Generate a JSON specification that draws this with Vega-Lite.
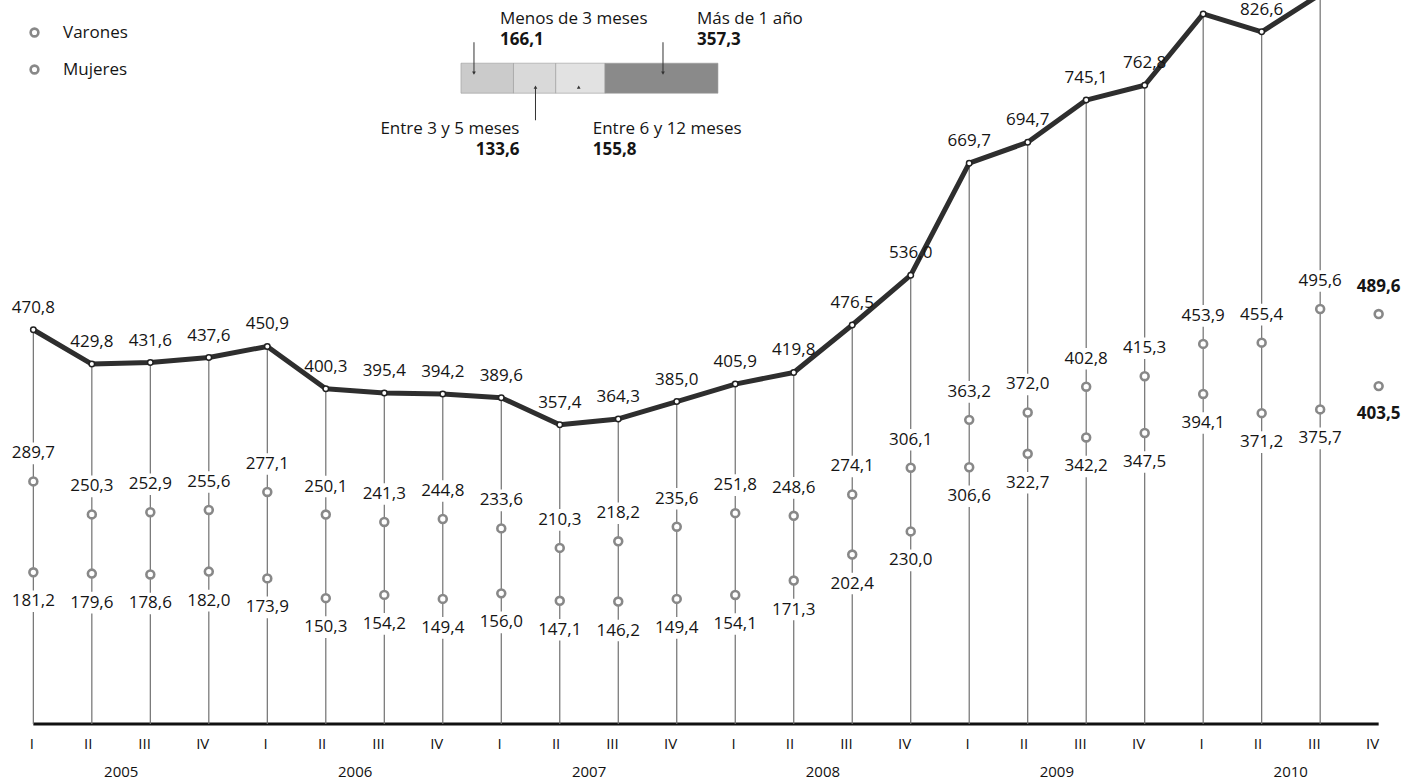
{
 "$schema": "https://vega.github.io/schema/vega-lite/v6.json",
 "width": 1412,
 "height": 724,
 "autosize": {"type": "none"},
 "padding": {"left": 0, "top": 0, "right": 0, "bottom": 56},
 "background": "white",
 "config": {
  "view": {"stroke": null},
  "font": "Open Sans",
  "locale": {"number": {"decimal": ",", "thousands": ".", "grouping": [3], "currency": ["", " €"]}},
  "text": {"color": "#151515"}
 },
 "datasets": {
  "trimestres": [
   {"key": "2005 I", "year": "2005", "total": 470.8, "Varones": 289.7, "Mujeres": 181.2},
   {"key": "2005 II", "year": "2005", "total": 429.8, "Varones": 250.3, "Mujeres": 179.6},
   {"key": "2005 III", "year": "2005", "total": 431.6, "Varones": 252.9, "Mujeres": 178.6},
   {"key": "2005 IV", "year": "2005", "total": 437.6, "Varones": 255.6, "Mujeres": 182.0},
   {"key": "2006 I", "year": "2006", "total": 450.9, "Varones": 277.1, "Mujeres": 173.9},
   {"key": "2006 II", "year": "2006", "total": 400.3, "Varones": 250.1, "Mujeres": 150.3},
   {"key": "2006 III", "year": "2006", "total": 395.4, "Varones": 241.3, "Mujeres": 154.2},
   {"key": "2006 IV", "year": "2006", "total": 394.2, "Varones": 244.8, "Mujeres": 149.4},
   {"key": "2007 I", "year": "2007", "total": 389.6, "Varones": 233.6, "Mujeres": 156.0},
   {"key": "2007 II", "year": "2007", "total": 357.4, "Varones": 210.3, "Mujeres": 147.1},
   {"key": "2007 III", "year": "2007", "total": 364.3, "Varones": 218.2, "Mujeres": 146.2},
   {"key": "2007 IV", "year": "2007", "total": 385.0, "Varones": 235.6, "Mujeres": 149.4},
   {"key": "2008 I", "year": "2008", "total": 405.9, "Varones": 251.8, "Mujeres": 154.1},
   {"key": "2008 II", "year": "2008", "total": 419.8, "Varones": 248.6, "Mujeres": 171.3},
   {"key": "2008 III", "year": "2008", "total": 476.5, "Varones": 274.1, "Mujeres": 202.4},
   {"key": "2008 IV", "year": "2008", "total": 536.0, "Varones": 306.1, "Mujeres": 230.0},
   {"key": "2009 I", "year": "2009", "total": 669.7, "Varones": 363.2, "Mujeres": 306.6},
   {"key": "2009 II", "year": "2009", "total": 694.7, "Varones": 372.0, "Mujeres": 322.7},
   {"key": "2009 III", "year": "2009", "total": 745.1, "Varones": 402.8, "Mujeres": 342.2},
   {"key": "2009 IV", "year": "2009", "total": 762.8, "Varones": 415.3, "Mujeres": 347.5},
   {"key": "2010 I", "year": "2010", "total": 848.0, "Varones": 453.9, "Mujeres": 394.1},
   {"key": "2010 II", "year": "2010", "total": 826.6, "Varones": 455.4, "Mujeres": 371.2},
   {"key": "2010 III", "year": "2010", "total": 871.3, "Varones": 495.6, "Mujeres": 375.7},
   {"key": "2010 IV", "year": "2010", "total": null, "Varones": 489.6, "Mujeres": 403.5}
  ],
  "duracion": [
   {"fila": "Duración", "duracion": "Menos de 3 meses", "valor": 166.1, "orden": 1},
   {"fila": "Duración", "duracion": "Entre 3 y 5 meses", "valor": 133.6, "orden": 2},
   {"fila": "Duración", "duracion": "Entre 6 y 12 meses", "valor": 155.8, "orden": 3},
   {"fila": "Duración", "duracion": "Más de 1 año", "valor": 357.3, "orden": 4}
  ],
  "eje": [
   {"desde": "2005 I", "hasta": "2010 IV", "nivel": 0}
  ]
 },
 "layer": [
  {
   "layer": [
    {
     "data": {"name": "eje"},
     "mark": {"type": "rule", "color": "#111", "strokeWidth": 3},
     "encoding": {
      "x": {"field": "desde", "type": "ordinal"},
      "x2": {"field": "hasta"},
      "y": {"field": "nivel", "type": "quantitative", "scale": {"domain": [0, 864.6], "nice": false, "zero": true}, "axis": null}
     }
    },
    {
     "data": {"name": "trimestres"},
     "encoding": {
      "x": {
       "field": "key", "type": "ordinal",
       "scale": {"type": "point", "padding": 0.57, "domain": ["2005 I","2005 II","2005 III","2005 IV","2006 I","2006 II","2006 III","2006 IV","2007 I","2007 II","2007 III","2007 IV","2008 I","2008 II","2008 III","2008 IV","2009 I","2009 II","2009 III","2009 IV","2010 I","2010 II","2010 III","2010 IV"]},
       "axis": {"orient": "bottom", "title": null, "labelExpr": "split(datum.value, ' ')[1]", "labelAngle": 0, "ticks": false, "domain": false, "grid": false, "labelPadding": 19, "labelFontSize": 15, "labelColor": "#111"}
      }
     },
     "layer": [
      {
       "transform": [{"filter": "datum.total != null"}],
       "mark": {"type": "bar", "color": "#707070", "width": 1.2},
       "encoding": {
        "y": {"field": "total", "type": "quantitative", "scale": {"domain": [0, 864.6], "nice": false, "zero": true}, "axis": null}
       }
      },
      {
       "transform": [{"filter": "datum.total != null"}],
       "mark": {"type": "point", "shape": "M-1,-0.45L1,-0.45L1,0.45L-1,0.45Z", "filled": true, "color": "white", "opacity": 1, "size": 2304, "yOffset": -28},
       "encoding": {"y": {"field": "Varones", "type": "quantitative", "scale": {"domain": [0, 864.6], "nice": false, "zero": true}, "axis": null}}
      },
      {
       "transform": [{"filter": "datum.total != null"}],
       "mark": {"type": "point", "shape": "M-1,-0.45L1,-0.45L1,0.45L-1,0.45Z", "filled": true, "color": "white", "opacity": 1, "size": 2304, "yOffset": 29},
       "encoding": {"y": {"field": "Mujeres", "type": "quantitative", "scale": {"domain": [0, 864.6], "nice": false, "zero": true}, "axis": null}}
      },
      {
       "transform": [{"filter": "datum.total != null"}],
       "mark": {"type": "line", "color": "#2e2e2e", "strokeWidth": 5, "strokeJoin": "round"},
       "encoding": {"y": {"field": "total", "type": "quantitative", "scale": {"domain": [0, 864.6], "nice": false, "zero": true}, "axis": null}}
      },
      {
       "transform": [{"filter": "datum.total != null"}],
       "mark": {"type": "point", "filled": true, "fill": "white", "stroke": "#222", "strokeWidth": 1.5, "size": 30, "opacity": 1},
       "encoding": {"y": {"field": "total", "type": "quantitative", "scale": {"domain": [0, 864.6], "nice": false, "zero": true}, "axis": null}}
      },
      {
       "transform": [{"filter": "datum.total != null"}],
       "mark": {"type": "text", "dy": -22, "fontSize": 17},
       "encoding": {
        "y": {"field": "total", "type": "quantitative", "scale": {"domain": [0, 864.6], "nice": false, "zero": true}, "axis": null},
        "text": {"field": "total", "type": "quantitative", "format": ".1f"}
       }
      },
      {
       "transform": [{"fold": ["Varones", "Mujeres"], "as": ["sexo", "valor"]}],
       "mark": {"type": "point", "filled": true, "fill": "white", "strokeWidth": 2.6, "size": 62, "opacity": 1},
       "encoding": {
        "y": {"field": "valor", "type": "quantitative", "scale": {"domain": [0, 864.6], "nice": false, "zero": true}, "axis": null},
        "stroke": {
         "field": "sexo", "type": "nominal",
         "scale": {"domain": ["Varones", "Mujeres"], "range": ["#888888", "#888888"]},
         "legend": {"orient": "none", "legendX": 26, "legendY": 24, "title": null, "labelFontSize": 17, "labelColor": "#151515", "symbolType": "circle", "symbolSize": 60, "symbolStrokeWidth": 2.6, "symbolFillColor": "white", "rowPadding": 18, "labelOffset": 20}
        }
       }
      },
      {
       "transform": [{"filter": "datum.key !== '2010 IV'"}],
       "mark": {"type": "text", "dy": -28, "fontSize": 17},
       "encoding": {
        "y": {"field": "Varones", "type": "quantitative", "scale": {"domain": [0, 864.6], "nice": false, "zero": true}, "axis": null},
        "text": {"field": "Varones", "type": "quantitative", "format": ".1f"}
       }
      },
      {
       "transform": [{"filter": "datum.key !== '2010 IV'"}],
       "mark": {"type": "text", "dy": 29, "fontSize": 17},
       "encoding": {
        "y": {"field": "Mujeres", "type": "quantitative", "scale": {"domain": [0, 864.6], "nice": false, "zero": true}, "axis": null},
        "text": {"field": "Mujeres", "type": "quantitative", "format": ".1f"}
       }
      },
      {
       "transform": [{"filter": "datum.key === '2010 IV'"}],
       "mark": {"type": "text", "dy": -27, "fontSize": 17, "fontWeight": "bold"},
       "encoding": {
        "y": {"field": "Varones", "type": "quantitative", "scale": {"domain": [0, 864.6], "nice": false, "zero": true}, "axis": null},
        "text": {"field": "Varones", "type": "quantitative", "format": ".1f"}
       }
      },
      {
       "transform": [{"filter": "datum.key === '2010 IV'"}],
       "mark": {"type": "text", "dy": 28, "fontSize": 17, "fontWeight": "bold"},
       "encoding": {
        "y": {"field": "Mujeres", "type": "quantitative", "scale": {"domain": [0, 864.6], "nice": false, "zero": true}, "axis": null},
        "text": {"field": "Mujeres", "type": "quantitative", "format": ".1f"}
       }
      }
     ]
    }
   ]
  },
  {
   "data": {"name": "trimestres"},
   "mark": {"type": "rule", "opacity": 0},
   "encoding": {
    "x": {
     "field": "year", "type": "ordinal",
     "scale": {"type": "band", "paddingInner": 0, "paddingOuter": 0.0185},
     "axis": {"orient": "bottom", "title": null, "ticks": false, "domain": false, "grid": false, "labelAngle": 0, "labelPadding": 40, "labelFontSize": 15, "labelColor": "#111"}
    }
   }
  },
  {
   "data": {"name": "duracion"},
   "transform": [{"stack": "valor", "groupby": [], "sort": [{"field": "orden", "order": "ascending"}], "as": ["inicio", "fin"]}],
   "encoding": {
    "x": {"field": "inicio", "type": "quantitative", "scale": {"domain": [-1458, 3008], "nice": false, "zero": false}, "axis": null},
    "y": {"field": "fila", "type": "nominal", "scale": {"type": "point", "padding": 0, "align": 0.108}, "axis": null}
   },
   "layer": [
    {
     "mark": {"type": "bar", "height": 30, "stroke": "#9a9a9a", "strokeWidth": 0.6},
     "encoding": {
      "x2": {"field": "fin"},
      "fill": {"field": "duracion", "type": "nominal", "scale": {"domain": ["Menos de 3 meses", "Entre 3 y 5 meses", "Entre 6 y 12 meses", "Más de 1 año"], "range": ["#cbcbcb", "#d9d9d9", "#e2e2e2", "#8a8a8a"]}, "legend": null}
     }
    },
    {
     "transform": [{"filter": "datum.orden === 1"}],
     "layer": [
      {"mark": {"type": "text", "align": "left", "dx": 39, "dy": -59, "fontSize": 17}, "encoding": {"text": {"field": "duracion", "type": "nominal"}}},
      {"mark": {"type": "text", "align": "left", "dx": 39, "dy": -38, "fontSize": 17, "fontWeight": "bold"}, "encoding": {"text": {"field": "valor", "type": "quantitative", "format": ".1f"}}},
      {"mark": {"type": "tick", "orient": "vertical", "thickness": 1, "size": 31, "xOffset": 13, "yOffset": -20.5, "color": "#333", "opacity": 1}},
      {"mark": {"type": "point", "shape": "triangle-down", "filled": true, "color": "#333", "size": 14, "xOffset": 13, "yOffset": -5, "opacity": 1}}
     ]
    },
    {
     "transform": [{"filter": "datum.orden === 2"}],
     "layer": [
      {"mark": {"type": "text", "align": "right", "dx": 6, "dy": 51, "fontSize": 17}, "encoding": {"text": {"field": "duracion", "type": "nominal"}}},
      {"mark": {"type": "text", "align": "right", "dx": 6, "dy": 72, "fontSize": 17, "fontWeight": "bold"}, "encoding": {"text": {"field": "valor", "type": "quantitative", "format": ".1f"}}},
      {"mark": {"type": "tick", "orient": "vertical", "thickness": 1, "size": 32, "xOffset": 22, "yOffset": 26, "color": "#333", "opacity": 1}},
      {"mark": {"type": "point", "shape": "triangle-up", "filled": true, "color": "#333", "size": 14, "xOffset": 22, "yOffset": 9, "opacity": 1}}
     ]
    },
    {
     "transform": [{"filter": "datum.orden === 3"}],
     "layer": [
      {"mark": {"type": "text", "align": "left", "dx": 37, "dy": 51, "fontSize": 17}, "encoding": {"text": {"field": "duracion", "type": "nominal"}}},
      {"mark": {"type": "text", "align": "left", "dx": 37, "dy": 72, "fontSize": 17, "fontWeight": "bold"}, "encoding": {"text": {"field": "valor", "type": "quantitative", "format": ".1f"}}},
      {"mark": {"type": "point", "shape": "triangle-up", "filled": true, "color": "#333", "size": 14, "xOffset": 23, "yOffset": 9, "opacity": 1}}
     ]
    },
    {
     "transform": [{"filter": "datum.orden === 4"}],
     "layer": [
      {"mark": {"type": "text", "align": "left", "dx": 92, "dy": -59, "fontSize": 17}, "encoding": {"text": {"field": "duracion", "type": "nominal"}}},
      {"mark": {"type": "text", "align": "left", "dx": 92, "dy": -38, "fontSize": 17, "fontWeight": "bold"}, "encoding": {"text": {"field": "valor", "type": "quantitative", "format": ".1f"}}},
      {"mark": {"type": "tick", "orient": "vertical", "thickness": 1, "size": 31, "xOffset": 58, "yOffset": -20.5, "color": "#333", "opacity": 1}},
      {"mark": {"type": "point", "shape": "triangle-down", "filled": true, "color": "#333", "size": 14, "xOffset": 58, "yOffset": -5, "opacity": 1}}
     ]
    }
   ]
  }
 ],
 "resolve": {"scale": {"x": "independent", "y": "independent"}}
}
